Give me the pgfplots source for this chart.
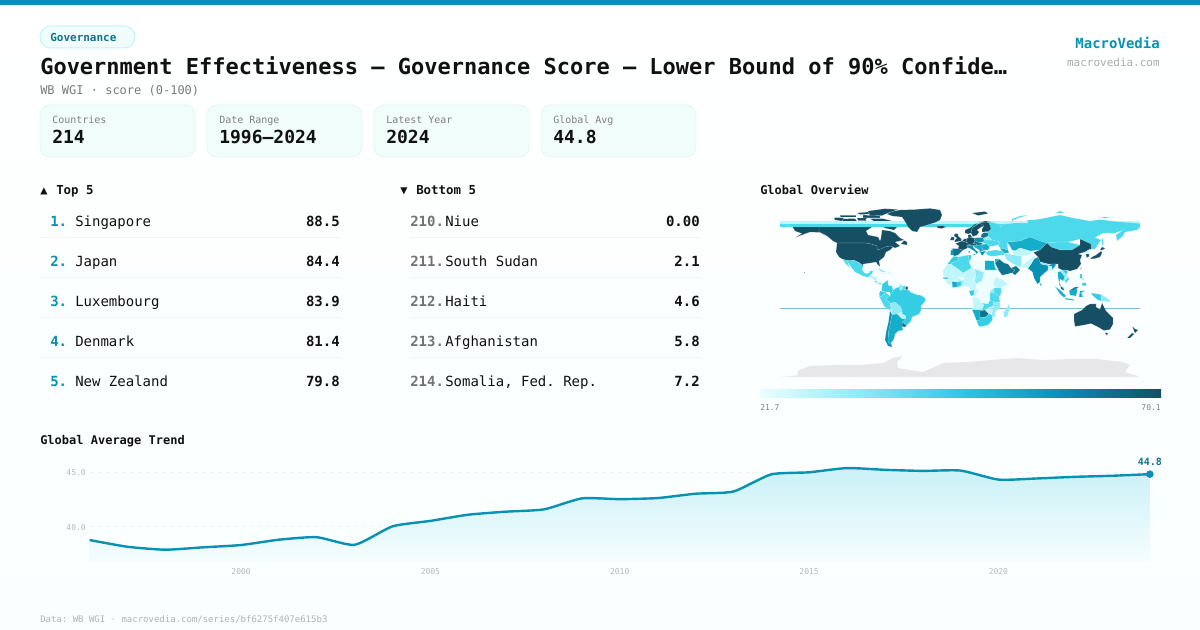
\documentclass[border=0pt]{standalone}
\usepackage{fontspec}
\usepackage{pgfplots}
\pgfplotsset{compat=1.18}
\setmainfont{DejaVu Sans Mono}
\newcommand\fz[1]{\fontsize{\fpeval{#1*0.75}}{\fpeval{#1*0.9}}\selectfont}

\definecolor{brand}{HTML}{0891B2}
\definecolor{brandd}{HTML}{0E7490}
\definecolor{ink}{HTML}{111111}
\definecolor{cardf}{HTML}{F1FDFB}
\definecolor{cardl}{HTML}{E4F6F5}
\definecolor{sep}{HTML}{F1F4F4}
\definecolor{pagebot}{HTML}{F9FFFF}
\definecolor{areatop}{HTML}{CAF1F7}
\definecolor{areabot}{HTML}{F5FDFE}
% map classes, light to dark
\definecolor{cA}{HTML}{ECFEFF}
\definecolor{cB}{HTML}{C0F5FB}
\definecolor{cC}{HTML}{8EEAF7}
\definecolor{cD}{HTML}{4DD9EC}
\definecolor{cE}{HTML}{34CDE4}
\definecolor{cF}{HTML}{14AECB}
\definecolor{cG}{HTML}{0891B2}
\definecolor{cH}{HTML}{0E7490}
\definecolor{cI}{HTML}{164E63}
\definecolor{ice}{HTML}{E5E7EB}

\newcommand\ct[2]{\addplot[fill=#1,draw=white,draw opacity=.4,line width=.15pt,forget plot] coordinates {#2} --cycle;}
\newcommand\cn[2]{\addplot[fill=#1,draw=none,forget plot] coordinates {#2} --cycle;}

\tikzset{t/.style={inner sep=0pt,anchor=base west,text=ink},
         r/.style={inner sep=0pt,anchor=base east,text=ink}}

\begin{document}
\frenchspacing
\begin{tikzpicture}[x=.75pt,y=-.75pt]
\path[use as bounding box] (0,0) rectangle (1200,630);
\shade[top color=white,bottom color=pagebot] (0,0) rectangle (1200,630);
\fill[brand] (0,0) rectangle (1200,5);

% header
\draw[draw=cB,fill=cardf,line width=.75pt,rounded corners=8.2pt] (40,26) rectangle (135,48);
\node[t,text=brandd] at (50,42) {\fz{11}\bfseries Governance};
\node[t] at (40,75) {\fz{22}\bfseries Government Effectiveness — Governance Score — Lower Bound of 90\% Confide…};
\node[t,text=black!52] at (40,95) {\fz{12}WB WGI · score (0-100)};
\node[r,text=brand] at (1160,49) {\fz{14}\bfseries MacroVedia};
\node[r,text=black!33] at (1160,67) {\fz{11}macrovedia.com};

% stat cards
\foreach \cx/\lab/\val in {40/Countries/214,207/Date Range/1996–2024,374/Latest Year/2024,541/Global Avg/44.8}{
  \draw[draw=cardl,fill=cardf,line width=.6pt,rounded corners=7.5pt] (\cx,105) rectangle ({\cx+155},157);
  \node[t,text=black!50] at ({\cx+12},124) {\fz{10}\lab};
  \node[t] at ({\cx+12},144) {\fz{18}\bfseries \val};
}

% rankings
\node[t] at (40,194.5) {\fz{12}\bfseries ▲};
\node[t] at (56,194.5) {\fz{12.4}\bfseries Top 5};
\node[t] at (400,194.5) {\fz{12}\bfseries ▼};
\node[t] at (416,194.5) {\fz{12.4}\bfseries Bottom 5};
\foreach \ry/\rk/\nm/\vl in {227/1./Singapore/88.5,267/2./Japan/84.4,307/3./Luxembourg/83.9,347/4./Denmark/81.4,387/5./New Zealand/79.8}{
  \node[t,text=brand] at (50,\ry) {\fz{14}\bfseries \rk};
  \node[t] at (75,\ry) {\fz{14}\nm};
  \node[r] at (340,\ry) {\fz{14}\bfseries \vl};
}
\foreach \ry/\rk/\nm/\vl in {227/210./Niue/0.00,267/211./South Sudan/2.1,307/212./Haiti/4.6,347/213./Afghanistan/5.8,387/214./{Somalia, Fed. Rep.}/7.2}{
  \node[t,text=black!55] at (410,\ry) {\fz{14}\bfseries \rk};
  \node[t] at (445,\ry) {\fz{14}\nm};
  \node[r] at (700,\ry) {\fz{14}\bfseries \vl};
}
\foreach \sy in {238,278,318,358}{
  \draw[sep,line width=.75pt] (40,\sy) -- (340,\sy);
  \draw[sep,line width=.75pt] (410,\sy) -- (700,\sy);
}

% map heading and colour key
\node[t] at (760,194.5) {\fz{12}\bfseries Global Overview};
\shade[left color=cA,right color=cC] (760,390) rectangle (860.5,398);
\shade[left color=cC,right color=cE!85!cF] (860,390) rectangle (960.5,398);
\shade[left color=cE!85!cF,right color=cG] (960,390) rectangle (1060.5,398);
\shade[left color=cG,right color=cI] (1060,390) rectangle (1161,398);
\node[t,text=black!50] at (760,411) {\fz{8}21.7};
\node[r,text=black!50] at (1161,411) {\fz{8}70.1};

\node[t] at (40,445) {\fz{12}\bfseries Global Average Trend};
\node[t,text=black!30] at (40,623) {\fz{9}Data: WB WGI · macrovedia.com/series/bf6275f407e615b3};

% map, lon/lat at one pixel per degree
\begin{axis}[at={(585pt,-286.5pt)},anchor=south west,x=.75pt,y=.75pt,
  xmin=-180,xmax=180,ymin=-90,ymax=90,hide axis,clip=false]
\addplot[draw=brand!55!white,line width=.75pt,forget plot] coordinates {(-180,-16.5)(180,-16.5)};
\ct{ice}{(-162,-83)(-163,-79)(-150,-74)(-123,-73)(-100,-73)(-77,-71)(-67,-66)(-57,-64)(-63,-70)(-62,-76)(-50,-78)(-37,-80)(-17,-71)(7,-70)(30,-68)(57,-66)(83,-68)(110,-67)(137,-67)(163,-70)(170,-73)(165,-80)(178,-84)(178,-85)(-180,-85)}
% north america
\ct{cI}{(-141,69.6)(-128,70)(-115,68)(-100,68)(-95,72)(-88,68)(-82,69)(-94,61)(-92,57)(-82,55)(-80,51)(-79,54)(-78,62)(-70,61)(-65,59)(-60,54)(-56,52)(-65,50)(-60,46)(-65,44)(-67,45)(-70,46)(-75,45)(-79,43)(-83,42)(-83,46)(-89,48)(-95,49)(-123,49)(-127,51)(-133,56)(-141,60)}
\ct{cI}{(-90,73.5)(-78,73.5)(-68,71)(-62,66)(-66,62)(-75,64)(-85,70)}
\ct{cI}{(-119,73)(-105,73.5)(-102,69)(-115,69)}
\ct{cI}{(-92,81)(-75,83.3)(-62,82.5)(-72,79)(-78,76.5)(-90,76)}
\ct{cI}{(-126,74.5)(-116,74.5)(-118,71)(-125,72)}
\ct{cI}{(-97,77)(-80,76)(-80,74.2)(-97,74.2)}
\ct{cI}{(-120,77)(-104,77)(-104,74.8)(-120,74.8)}
\ct{cI}{(-103,79)(-92,80)(-90,78)(-100,77.5)}
\ct{cI}{(-103,74)(-93,74)(-95,71.5)(-102,71.5)}
\ct{cI}{(-59,48)(-53,47)(-53,50)(-56,51.5)}
\ct{cI}{(-123,49)(-95,49)(-89,48)(-83,46)(-83,42)(-79,43)(-75,45)(-70,46)(-67,45)(-70,42)(-74,40)(-76,35)(-81,31)(-80,25.5)(-82,27)(-84,30)(-90,29)(-97,28)(-97,26)(-101,29.5)(-106,31.7)(-111,31.3)(-117,32.5)(-121,35)(-124,40)}
\ct{cI}{(-168,66)(-162,70)(-156,71)(-141,69.6)(-141,60)(-133,56)(-139,59.5)(-150,60)(-158,57)(-165,54.5)(-158,58.5)(-165,61)}
\ct{cI}{(-156,20)(-155,19.5)(-155.5,19)}
% wrap-around bands from the Russian polygon
\cn{cB}{(-180,71.3)(180,71.3)(180,68.3)(-180,68.3)}
\cn{cD}{(-180,68.3)(180,68.3)(180,65.3)(-180,65.3)}
\ct{cI}{(-73,78)(-68,80.5)(-60,82)(-45,82.5)(-30,83.6)(-20,82)(-18,77)(-20,72)(-25,69.5)(-33,67)(-40,65)(-43,60)(-48,61)(-52,65)(-54,69)(-58,75)(-68,76)}
\ct{cI}{(-24,65.5)(-18,66.5)(-14,65)(-18,63.5)(-22,64)}
\ct{cD}{(-117,32.5)(-111,31.3)(-106,31.7)(-101,29.5)(-97,26)(-97.8,22)(-95,18.5)(-91,18.8)(-90,21)(-87,21)(-88,18)(-92,14.5)(-97,16)(-105,20)(-109,25)(-113,31)(-110,24)(-115,29)}
\ct{cB}{(-92,14.5)(-88,18)(-88,16)(-83,15)(-83.5,11)(-87.5,13)}
\ct{cD}{(-85.5,11)(-83.5,11)(-82.5,9)(-80,9)(-77.5,8)(-80,7.5)(-85,10)}
\ct{cC}{(-85,22)(-80,23)(-74,20)(-78,20)(-82,22.5)}
\ct{cA}{(-74.5,20)(-72,20)(-72,18)(-74.5,18)}
\ct{cB}{(-72,20)(-68.5,18.7)(-72,18)}
\ct{cE}{(-78.3,18.5)(-76.3,18.2)(-77,17.7)}
% south america
\ct{cE}{(-77.5,8)(-72,12)(-72,7)(-67.5,6)(-67,1.5)(-70,-4)(-70,0)(-75,0)(-78.5,1.5)}
\ct{cA}{(-72,12)(-62,10.5)(-60,8)(-61,5)(-64,4)(-67,1.5)(-67.5,6)(-72,7)}
\ct{cC}{(-60,8)(-57,6)(-58,2)(-60,1.5)(-61,5)}
\ct{cD}{(-57,6)(-54,5.8)(-54.5,2.3)(-58,2)}
\ct{cI}{(-54,5.8)(-51.7,4.2)(-53,2.2)(-54.5,2.3)}
\ct{cE}{(-80,1)(-75,0)(-75.5,-1.5)(-78.5,-4.5)(-81,-3)}
\ct{cD}{(-81,-4)(-78.5,-4.5)(-75.5,-1.5)(-75,0)(-70,-4)(-74,-7)(-70,-11)(-69,-16)(-70,-18.3)(-76,-14)}
\ct{cE}{(-70,-4)(-67,1.5)(-64,4)(-61,5)(-60,1.5)(-58,2)(-54.5,2.3)(-53,2.2)(-50,1)(-50,0)(-44,-2.5)(-39,-3.5)(-35,-6)(-35,-9)(-39,-14)(-39,-18)(-41,-22)(-48,-25)(-49,-29)(-53.5,-33.7)(-57.5,-30)(-54,-26)(-54.5,-24)(-58,-22)(-58,-20)(-60,-16)(-65,-12)(-70,-11)(-74,-7)}
\ct{cC}{(-69,-11)(-65,-10)(-60,-14)(-58,-18)(-58,-20)(-63,-22)(-68,-22.7)(-69,-16)}
\ct{cB}{(-63,-22)(-58,-20)(-58,-22)(-54.5,-24)(-54.7,-27)(-58,-27)}
\ct{cG}{(-70,-18.3)(-68,-22.7)(-70,-33)(-71.5,-40)(-72,-50)(-68.5,-52.5)(-68,-55)(-72,-54)(-75,-48)(-73.5,-38)(-71.5,-30)}
\ct{cF}{(-68,-22.7)(-63,-22)(-58,-27)(-54.7,-27)(-57.5,-30)(-58,-34.5)(-57,-38)(-62,-39)(-65,-42)(-66,-47)(-69,-51)(-68.5,-52.5)(-72,-50)(-71.5,-40)(-70,-33)}
\ct{cH}{(-58,-34.5)(-57.5,-30)(-53.5,-33.7)(-55,-35)}
% africa
\ct{cE}{(-6,35.8)(-2,35)(-1,32)(-8.7,29)(-8.7,27.7)(-13,27.7)(-10,31)(-9,33)}
\ct{cB}{(-13,27.7)(-8.7,27.7)(-4.8,25)(-6,21)(-5.5,15.5)(-12,15)(-16.5,16)(-17,21)}
\ct{cD}{(-2,35)(8.5,37)(9,30)(12,24)(3,19)(-4.8,25)(-8.7,27.7)(-8.7,29)(-1,32)}
\ct{cE}{(8.5,37)(11,37)(11,33)(9,30)}
\ct{cA}{(11,33)(20,31)(25,31.5)(25,20)(24,19.5)(15,23)(12,24)(9,30)}
\ct{cF}{(25,31.5)(34,31)(35,24)(37,22)(25,22)}
\ct{cB}{(-4.8,25)(3,19)(4,15)(-2,15)(-5,10.5)(-9,11)(-12,13)(-12,15)(-5.5,15.5)(-6,21)}
\ct{cB}{(3,19)(12,24)(15,23)(16,14)(13,13)(4,13)(4,15)}
\ct{cC}{(15,23)(24,19.5)(22,11)(16,8)(14,12)(16,14)}
\ct{cA}{(24,19.5)(25,22)(37,22)(38,18)(35,12)(32,10)(24,9)(22,11)}
\ct{cA}{(24,9)(32,10)(35,5)(28,4)}
\ct{cB}{(36,15)(43,12)(48,8)(42,4)(36,4.5)(33,8)}
\ct{cA}{(43,11)(51,12)(48,5)(41,-2)(41,4)(48,8)}
\ct{cD}{(34,4)(41,4)(41,-2)(39,-4.5)(34,-1)}
\ct{cE}{(-17,15)(-12,15)(-12,12.5)(-17,12.5)}
\ct{cB}{(-15,11)(-12,12.5)(-9,11)(-8,8)(-11,7)(-13,9)}
\ct{cA}{(-11,7)(-8,8)(-7.5,4.5)}
\ct{cF}{(-8,10.5)(-3,10)(-3,5)(-7.5,4.5)}
\ct{cE}{(-3,11)(1,11)(1,6)(-3,5)}
\ct{cB}{(-5,10.5)(-2,15)(2,12)(1,11)(-3,10)}
\ct{cC}{(1,11)(3,12)(3,6.3)(1,6)}
\ct{cB}{(3,13)(13,13)(14,11)(9,5)(4,6.3)(3,9)}
\ct{cB}{(9,5)(14,11)(16,8)(16,2)(10,2.5)}
\ct{cA}{(16,8)(22,11)(28,4)(19,4)(16,2)}
\ct{cE}{(9,1)(14,2)(14,-3)(11,-4)}
\ct{cB}{(14,2)(16,2)(19,4)(16,-4)(12,-5)(14,-3)}
\ct{cA}{(19,4)(28,4)(31,2)(29,-5)(30,-8)(28,-12)(22,-11)(17,-6)(12.5,-6)(16,-4)}
\ct{cC}{(30,-1)(31,2)(34,4)(34,-1)}
\ct{cD}{(30,-1)(34,-1)(39,-4.5)(40,-10.5)(34,-10)(30,-8)}
\ct{cB}{(12,-5)(13,-6)(17,-6)(22,-11)(24,-13)(22,-18)(12,-17.5)(13.5,-12)}
\ct{cD}{(22,-11)(28,-12)(30,-8)(34,-10)(33,-14)(28,-16)(25,-18)(22,-18)(24,-13)}
\ct{cF}{(12,-17.5)(22,-18)(25,-18)(20,-19)(20,-28)(16.5,-28.5)(14,-22)}
\ct{cH}{(20,-19)(25,-18)(29,-22)(25,-25.5)(20,-25)}
\ct{cB}{(25,-18)(28,-16)(33,-17)(32,-21)(29,-22)}
\ct{cE}{(16.5,-28.5)(20,-28)(20,-25)(25,-25.5)(29,-22)(32,-23)(32.5,-28)(28,-33)(20,-34.8)(18,-33)}
\ct{cC}{(32,-21)(33,-17)(33,-14)(34,-10)(40,-10.5)(40,-15)(35,-20)(35,-24)(32.5,-26)(32,-23)}
\ct{cC}{(49,-12)(50,-16)(47,-25)(44,-25)(43.5,-20)(47,-16)}
% russia and asia
\ct{cD}{(28,70)(33,69.5)(41,67)(40,65)(45,68)(55,69)(68,69)(67,72)(73,72)(80,73)(100,77)(113,74)(130,71)(140,72.5)(160,70)(170,69.5)(180,68.5)(180,65)(177,62)(165,60)(163,56)(157,51)(156,57)(163,62)(155,59)(143,59)(135,54.5)(141,52)(135,43)(131,43)(131,48)(120,53)(108,50)(98,50)(87,49)(80,51)(70,55)(60,51)(47,50)(48,42)(40,44)(38,47)(40,50)(32,52)(28,56)}
\ct{cD}{(-180,68.5)(-170,66)(-175,64.5)(-180,65)}
\ct{cD}{(52,71)(58,74)(68,77)(60,76)(52,73)}
\ct{cD}{(95,79)(105,79)(100,81)}
\ct{cD}{(140,75)(150,75)(145,73.5)}
\ct{cI}{(12,79)(25,80.5)(28,78.5)(18,76.5)}
\ct{cD}{(142,54)(143.5,52)(143,46)(142,47)}
\ct{cF}{(47,50)(60,51)(70,55)(80,51)(87,49)(80,42)(70,41)(60,44)(55,41)(52,42)(50,46)}
\ct{cD}{(87,49)(98,50)(108,50)(120,47)(112,42)(100,42)(91,45)}
\ct{cI}{(73.5,39.5)(80,42)(87,49)(91,45)(100,42)(112,42)(120,47)(120,53)(131,48)(131,43)(125,40)(121,39)(118,38)(122,37)(120,32)(121,28)(117,23)(110,21)(106,22)(102,22)(98,24)(98,28)(88,28)(80,30)(78,35)}
\ct{cI}{(126,38)(129,38)(129,35.5)(126.5,34.5)}
\ct{cB}{(125,40)(130,43)(128,39)(126,38)}
\ct{cI}{(130,33)(132,35)(136,37)(140,40)(141,41)(142,39)(140,35)(135,33.5)}
\ct{cI}{(140,42)(142,45)(145,43.5)(142,42)}
\ct{cI}{(120.5,23)(121.5,25)(121,22)}
\ct{cG}{(68,23.5)(71,28)(74,33)(78,35)(80,30)(81,28)(88,26.5)(92,28)(96,28)(94,24)(92,22)(88,22)(85,19.5)(80,15)(80,10)(77.5,8)(74,14)(72.5,20)}
\ct{cB}{(61,25)(67,24)(71,28)(74,33)(75,37)(70,33)(66,29.5)}
\ct{cA}{(61,30)(66,29.5)(70,33)(75,37)(65,37)(61,35)}
\ct{cC}{(44,39)(48,38)(54,37)(61,36)(61,25)(57,26)(50,30)(46,33)}
\ct{cA}{(39,33)(42,37)(44,37)(46,33)(48,30)(44,29)}
\ct{cH}{(35,29)(39,33)(44,29)(48,28)(51,24)(55,22)(52,19)(44,17)(42,17)(39,21)}
\ct{cH}{(51,24)(56,26)(60,22)(55,17)(52,19)(55,22)}
\ct{cA}{(43,13)(52,16)(52,19)(44,17)}
\ct{cD}{(26,40)(29,41)(35,42)(42,41)(44,39)(44,37)(36,36)(30,36)(27,37)}
\ct{cB}{(52,42)(55,41)(60,44)(70,41)(73.5,39.5)(68,37)(61,36)(54,37)}
\ct{cF}{(40,44)(48,42)(49,39)(44,39)(42,41)}
\ct{cA}{(36,36)(42,37)(39,33)(35.5,32.5)}
\ct{cF}{(35,33)(39,33)(35,29)}
\ct{cA}{(92,22)(94,24)(98,28)(98,24)(100,20)(98,15)(98,10)(95,16)(94,19)}
\ct{cF}{(98,20)(101,21)(105,15)(103,11)(100,13)(99,7)(101,6)(99,10)(98,15)}
\ct{cC}{(100,20)(102,22)(106,18)(108,15)(105,15)(101,20)}
\ct{cE}{(102,22)(106,22)(108,20)(106,18)(109,13)(106,9)(105,11)(108,15)(105,19)}
\ct{cC}{(103,11)(105,15)(107,13)(105,10.5)}
\ct{cB}{(88,26.5)(92,25.5)(92,22)(88,22)}
\ct{cC}{(80,30)(88,28)(88,26.5)(81,28)}
\ct{cF}{(80,9.5)(82,7)(80.5,6)}
\ct{cH}{(100.5,6)(103.5,4)(104,1.5)(101,3)}
\ct{cF}{(109,1.5)(117,4)(117,0)(116,-4)(110,-3)}
\ct{cH}{(109.5,1.5)(115,5)(119,5)(117,4)(113,2)}
\ct{cF}{(95,5.5)(100,2)(106,-4)(104,-5.5)(100,-2)}
\ct{cF}{(105,-6)(114,-7.5)(114,-8.5)(106,-7.5)}
\ct{cF}{(119,-5)(120,1)(125,1.5)(121,-1)(123,-5)}
\ct{cE}{(131,-1)(141,-2.5)(141,-9)(138,-8)(133,-4)}
\ct{cC}{(141,-2.5)(147,-6)(151,-10)(141,-9)}
\ct{cE}{(120,18)(122,18)(122,14)(124,12)(120,14)}
\ct{cE}{(122,9)(126,9)(126,6)(122,7)}
% oceania
\ct{cI}{(114,-22)(122,-18)(126,-14)(130,-12)(136,-12)(136,-15)(140,-17.5)(142,-11)(146,-19)(153,-26)(153,-32)(150,-37.5)(144,-38.5)(138,-35)(131,-31.5)(124,-33)(115,-34.5)(114,-28)}
\ct{cI}{(145,-41)(148,-41)(147,-43.5)}
\ct{cI}{(172.5,-34.5)(175,-37)(178,-38)(175,-41)(174,-39)}
\ct{cI}{(172,-41)(174,-42)(170,-46)(167,-46)}
% europe
\ct{cI}{(-5.5,50)(1,51)(1.5,53)(-2,56)(-2,58)(-5,58.5)(-6,56)(-3,54)(-5,52)}
\ct{cI}{(-10,52)(-6,52)(-6,55)(-8.5,55)}
\ct{cI}{(5,59)(8,58)(11,59)(12,64)(18,69)(28,70)(31,70)(25,71)(15,68)(10,64)(5,62)}
\ct{cI}{(11,59)(13,55.5)(17,57)(19,60)(17,62)(22,65.5)(24,66)(20,69)(12,64)}
\ct{cI}{(22,60)(28,60.5)(31,63)(29,69)(26,70)(20,69)(24,66)(22,63)}
\ct{cI}{(8,55)(12,55)(10.5,57.5)(8,57)}
\ct{cH}{(-9,43.5)(-2,43.5)(3,42)(0,39)(-2,37)(-5.5,36)(-7,37)(-7,42)}
\ct{cG}{(-9.5,37)(-7,37)(-7,42)(-9,42)}
\ct{cI}{(-4.5,48.5)(2,51)(8,49)(7.5,44)(3,42)(-2,43.5)(-1,46)}
\ct{cI}{(2,51)(4,53)(7,53.5)(6,50)}
\ct{cI}{(6,50)(7,53.5)(9,55)(14,54)(15,51)(13,48)(8,47.5)(8,49)}
\ct{cI}{(6,46)(8,47.5)(13,48)(17,48)(16,46.5)(10,46.5)}
\ct{cG}{(7.5,44)(7,46)(13,47)(13,45)(16,41.5)(18.5,40)(16,38)(15.5,40)(11,43)(9,44)}
\ct{cG}{(12.5,38)(15.5,38)(15,36.7)}
\ct{cG}{(8.5,41)(9.7,41)(9.5,39)(8.5,39)}
\ct{cG}{(14,54)(19,54.5)(23.5,54)(24,50.5)(19,49.5)(15,51)}
\ct{cH}{(13,48.5)(15,51)(19,49.5)(22.5,49)(22,47.5)(16,46.5)(17,48)}
\ct{cF}{(22,47.5)(27,48)(29.5,45)(28,42)(23,41.5)(22,44.5)}
\ct{cF}{(13.5,45.5)(16,46.5)(22,47.5)(22,44.5)(23,41.5)(20,40)(19,42)}
\ct{cG}{(20,40)(26,41)(23.5,38)(23,36.5)(21.5,37)}
\ct{cD}{(24,50.5)(24,52)(32,52)(40,50)(38,47)(33,46)(30,46)(29.5,45)(27,48)(22.5,49)}
\ct{cC}{(23.5,54)(28,56)(32,52)(24,52)}
\ct{cH}{(21,55)(21.5,57.5)(24,59.5)(28,59.5)(28,56)(23.5,54)}
\end{axis}

% trend
\begin{axis}[at={(67.2pt,-421pt)},anchor=south west,x=28.4pt,y=8.153pt,
  xmin=1996,xmax=2024,ymin=36.78,ymax=46.5,clip=false,
  axis line style={draw=none},tick style={draw=none},major tick length=0pt,
  xtick={2000,2005,2010,2015,2020},ytick={40,45},
  ymajorgrids,grid style={dashed,dash pattern=on 3pt off 3pt,draw=sep,line width=.6pt},
  /pgf/number format/assume math mode=true,
  /pgf/number format/1000 sep={},
  yticklabel style={/pgf/number format/fixed,/pgf/number format/fixed zerofill,/pgf/number format/precision=1,
    font=\fz{8},text=black!28,inner sep=0pt,xshift=-2.7pt,yshift=-.75pt},
  xticklabel style={font=\fz{8},text=black!28,inner sep=0pt,yshift=-5.25pt}]
\addplot[draw=none,top color=areatop,bottom color=areabot,forget plot] coordinates {
(1996,36.78)(1996,38.74)(1997,38.12)(1998,37.85)(1999,38.07)(2000,38.28)(2001,38.77)(2002,39.0)(2003,38.3)(2004,40.0)
(2005,40.5)(2006,41.07)(2007,41.35)(2008,41.56)(2009,42.57)(2010,42.5)(2011,42.6)(2012,43.0)(2013,43.2)(2014,44.78)
(2015,44.97)(2016,45.36)(2017,45.2)(2018,45.1)(2019,45.13)(2020,44.3)(2021,44.4)(2022,44.55)(2023,44.65)(2024,44.8)(2024,36.78)} --cycle;
\addplot[brand,line width=1.8pt,smooth,tension=.35,forget plot] coordinates {
(1996,38.74)(1997,38.12)(1998,37.85)(1999,38.07)(2000,38.28)(2001,38.77)(2002,39.0)(2003,38.3)(2004,40.0)
(2005,40.5)(2006,41.07)(2007,41.35)(2008,41.56)(2009,42.57)(2010,42.5)(2011,42.6)(2012,43.0)(2013,43.2)(2014,44.78)
(2015,44.97)(2016,45.36)(2017,45.2)(2018,45.1)(2019,45.13)(2020,44.3)(2021,44.4)(2022,44.55)(2023,44.65)(2024,44.8)};
\addplot[only marks,mark=*,mark size=2.6pt,brand,forget plot,
  nodes near coords={\fz{10}\bfseries 44.8},nodes near coords style={text=brandd,anchor=base,yshift=6.6pt}] coordinates {(2024,44.8)};
\end{axis}
\end{tikzpicture}
\end{document}
